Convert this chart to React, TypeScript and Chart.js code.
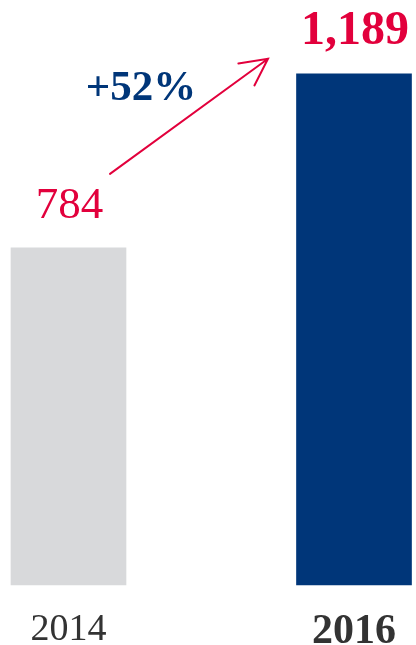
import React, { useEffect, useRef } from "react";
import { Chart, registerables } from "chart.js";

Chart.register(...registerables);

const categories: string[] = ["2014", "2016"];
const values: number[] = [784, 1189];
const barColors: string[] = ["#D8D9DB", "#003679"];
const changeLabel = "+52%";

const RED = "#E2003C";
const NAVY = "#003679";
const FONT = "'Liberation Serif', 'Times New Roman', serif";

const annotate = {
  id: "annotate",
  afterDatasetsDraw(chart: any) {
    const ctx = chart.ctx;
    const meta = chart.getDatasetMeta(0);
    const bars = meta.data;
    ctx.save();
    // value labels
    ctx.fillStyle = RED;
    ctx.textAlign = "center";
    ctx.textBaseline = "alphabetic";
    bars.forEach((b: any, i: number) => {
      ctx.font = i === 1 ? `bold 48px ${FONT}` : `45px ${FONT}`;
      ctx.fillText(values[i].toLocaleString("en-US"), b.x + 1, b.y - 30);
    });
    // arrow
    const a = bars[0];
    const c = bars[1];
    const x0 = a.x + 41.5;
    const y0 = a.y - 74;
    const x1 = c.x - 86;
    const y1 = c.y - 15;
    ctx.strokeStyle = RED;
    ctx.lineWidth = 2;
    ctx.lineCap = "round";
    ctx.beginPath();
    ctx.moveTo(x0, y0);
    ctx.lineTo(x1, y1);
    const ang = Math.atan2(y0 - y1, x0 - x1);
    const hl = 30;
    const ha = (27 * Math.PI) / 180;
    ctx.moveTo(x1 + hl * Math.cos(ang + ha), y1 + hl * Math.sin(ang + ha));
    ctx.lineTo(x1, y1);
    ctx.lineTo(x1 + hl * Math.cos(ang - ha), y1 + hl * Math.sin(ang - ha));
    ctx.stroke();
    // change label
    ctx.fillStyle = NAVY;
    ctx.font = `bold 43px ${FONT}`;
    ctx.textAlign = "center";
    ctx.fillText(changeLabel, (x0 + x1) / 2 - 48, (y0 + y1) / 2 - 16.5);
    ctx.restore();
  },
};

export default function App() {
  const ref = useRef<HTMLCanvasElement | null>(null);
  useEffect(() => {
    if (!ref.current) return;
    const chart = new Chart(ref.current, {
      type: "bar",
      data: {
        labels: categories,
        datasets: [
          {
            data: values,
            backgroundColor: barColors,
            borderWidth: 0,
            barThickness: 115,
            clip: false as any,
          },
        ],
      },
      options: {
        animation: false,
        responsive: false,
        maintainAspectRatio: false,
        layout: { padding: { top: 26, left: 68.5, right: 62, bottom: 0 } },
        plugins: { legend: { display: false }, tooltip: { enabled: false } },
        scales: {
          x: {
            offset: false,
            grid: { display: false, drawTicks: false },
            border: { display: false },
            afterFit: (scale: any) => {
              scale.height = 60;
              scale.paddingLeft = 0;
              scale.paddingRight = 0;
            },
            ticks: {
              padding: 26,
              color: "#333333",
              maxRotation: 0,
              autoSkip: false,
              font: (ctx: any) =>
                ctx.index === 1
                  ? { family: FONT, size: 42, weight: "bold", lineHeight: 1 }
                  : { family: FONT, size: 38, weight: "normal", lineHeight: 1 },
            },
          },
          y: {
            display: false,
            min: 0,
            max: 1300,
          },
        },
      },
      plugins: [annotate],
    });
    return () => chart.destroy();
  }, []);
  return (
    <div style={{ position: "absolute", left: 0, top: 0, width: 416, height: 645, background: "#fff" }}>
      <canvas ref={ref} width={416} height={645} style={{ display: "block" }} />
    </div>
  );
}
